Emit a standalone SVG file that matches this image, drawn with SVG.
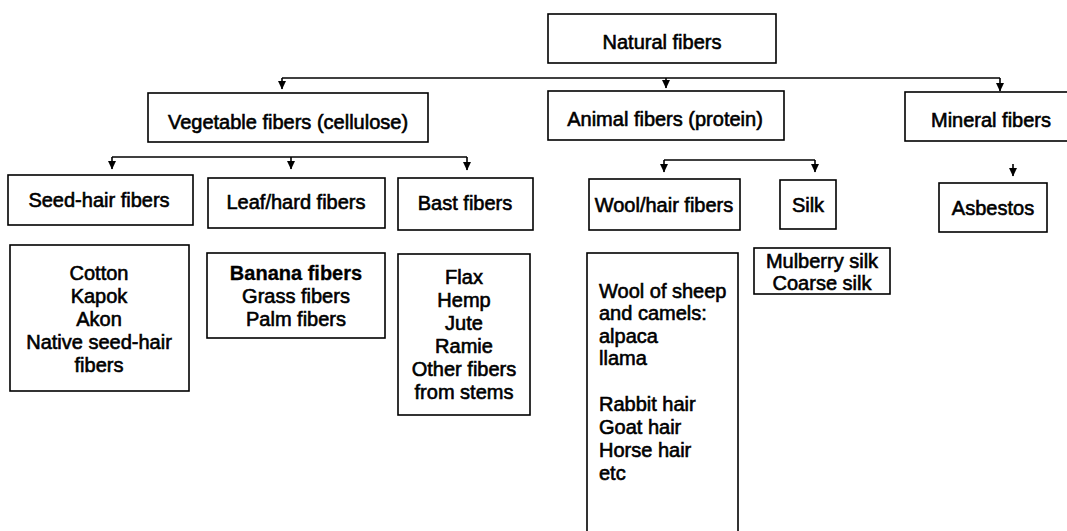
<svg xmlns="http://www.w3.org/2000/svg" width="1067" height="531" viewBox="0 0 1067 531">
<defs>
<marker id="ah" markerUnits="userSpaceOnUse" markerWidth="9" markerHeight="9" refX="8" refY="4.5" orient="auto" viewBox="0 0 9 9">
<path d="M0,0.5 L8.5,4.5 L0,8.5 Z" fill="#000"/>
</marker>
<style>
rect{fill:#fff;stroke:#000;stroke-width:1.6}
text{font-family:"Liberation Sans",Arial,sans-serif;font-size:20px;fill:#000;stroke:#000;stroke-width:0.6;text-anchor:middle}
.l{text-anchor:start}
.b{font-weight:bold;stroke-width:0.3}
.c line,.c path{stroke:#000;stroke-width:1.6;fill:none}
</style>
</defs>
<rect x="0" y="0" width="1067" height="531" style="fill:#fff;stroke:none"/>
<g class="c" id="connectors">
<line x1="282" y1="78" x2="1000" y2="78"/>
<line x1="282" y1="78" x2="282" y2="89" marker-end="url(#ah)"/>
<line x1="666" y1="78" x2="666" y2="88" marker-end="url(#ah)"/>
<line x1="1000" y1="78" x2="1000" y2="91" marker-end="url(#ah)"/>
<line x1="112" y1="157" x2="467" y2="157"/>
<line x1="112" y1="157" x2="112" y2="169" marker-end="url(#ah)"/>
<line x1="291" y1="157" x2="291" y2="169" marker-end="url(#ah)"/>
<line x1="467" y1="157" x2="467" y2="170" marker-end="url(#ah)"/>
<line x1="664" y1="160" x2="815" y2="160"/>
<line x1="664" y1="160" x2="664" y2="172" marker-end="url(#ah)"/>
<line x1="815" y1="160" x2="815" y2="172" marker-end="url(#ah)"/>
<line x1="1013" y1="164" x2="1013" y2="176" marker-end="url(#ah)"/>
</g>
<g id="natural"><rect x="548" y="14" width="228" height="49"/><text x="662" y="49">Natural fibers</text></g>
<g id="vegetable"><rect x="148" y="93" width="280" height="49"/><text x="288" y="129">Vegetable fibers (cellulose)</text></g>
<g id="animal"><rect x="548" y="91" width="236" height="49"/><text x="665" y="126">Animal fibers (protein)</text></g>
<g id="mineral"><rect x="905" y="92" width="175" height="49"/><text x="991" y="127">Mineral fibers</text></g>
<g id="seedhair"><rect x="8" y="175" width="185" height="50"/><text x="99" y="207">Seed-hair fibers</text></g>
<g id="leafhard"><rect x="208" y="178" width="177" height="50"/><text x="296" y="209">Leaf/hard fibers</text></g>
<g id="bast"><rect x="398" y="178" width="135" height="52"/><text x="465" y="210">Bast fibers</text></g>
<g id="woolhair"><rect x="589" y="179" width="151" height="51"/><text x="664" y="212">Wool/hair fibers</text></g>
<g id="silk"><rect x="780" y="180" width="56" height="49"/><text x="808" y="212">Silk</text></g>
<g id="asbestos"><rect x="939" y="183" width="108" height="49"/><text x="993" y="215">Asbestos</text></g>
<g id="seedlist"><rect x="10" y="245" width="179" height="146"/>
<text x="99" y="280">Cotton</text><text x="99" y="303">Kapok</text><text x="99" y="326">Akon</text><text x="99" y="349">Native seed-hair</text><text x="99" y="372">fibers</text></g>
<g id="leaflist"><rect x="207" y="253" width="178" height="85"/>
<text class="b" x="296" y="280">Banana fibers</text><text x="296" y="303">Grass fibers</text><text x="296" y="326">Palm fibers</text></g>
<g id="bastlist"><rect x="398" y="254" width="132" height="161"/>
<text x="464" y="284">Flax</text><text x="464" y="307">Hemp</text><text x="464" y="330">Jute</text><text x="464" y="353">Ramie</text><text x="464" y="376">Other fibers</text><text x="464" y="399">from stems</text></g>
<g id="woollist"><rect x="587" y="253" width="151" height="290"/>
<text class="l" x="599" y="298">Wool of sheep</text><text class="l" x="599" y="320">and camels:</text><text class="l" x="599" y="343">alpaca</text><text class="l" x="599" y="365">llama</text><text class="l" x="599" y="411">Rabbit hair</text><text class="l" x="599" y="434">Goat hair</text><text class="l" x="599" y="457">Horse hair</text><text class="l" x="599" y="480">etc</text></g>
<g id="silklist"><rect x="754" y="248" width="136" height="46"/>
<text x="822" y="268">Mulberry silk</text><text x="822" y="290">Coarse silk</text></g>
</svg>
